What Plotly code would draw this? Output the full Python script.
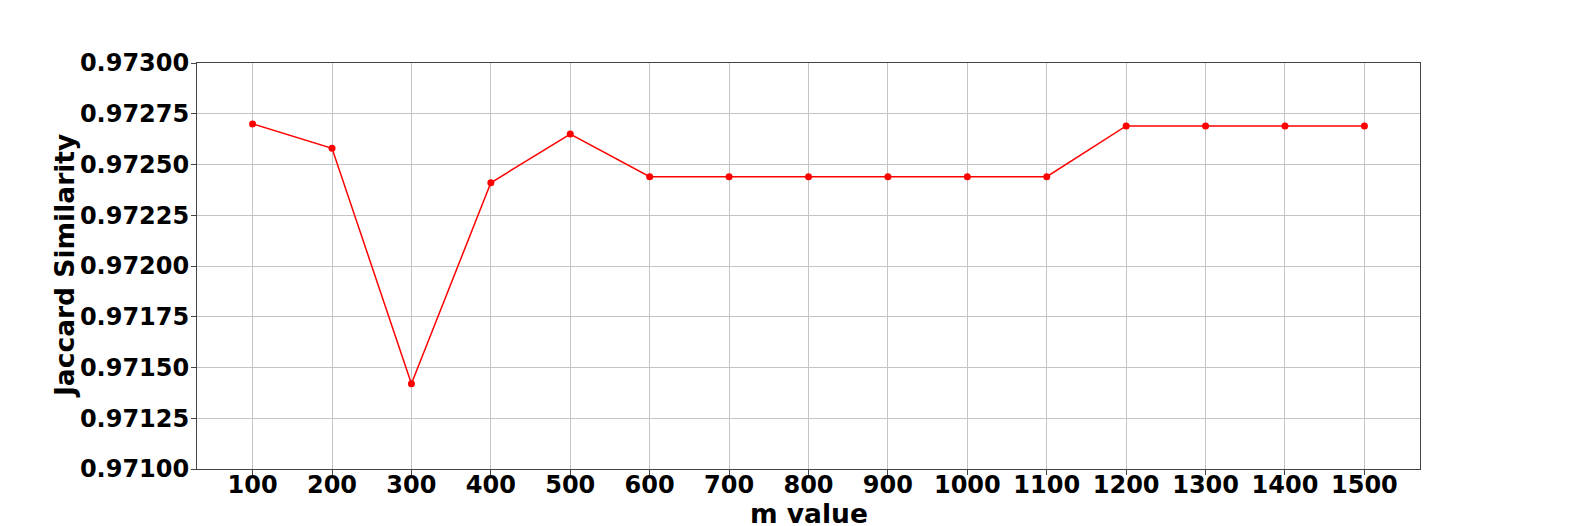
import plotly.graph_objects as go

# m values and the Jaccard similarity
m_values = [100, 200, 300, 400, 500, 600, 700, 800, 900, 1000, 1100, 1200, 1300, 1400, 1500]
jaccard = [0.97270, 0.97258, 0.97142, 0.97241, 0.97265,
           0.97244, 0.97244, 0.97244, 0.97244, 0.97244, 0.97244,
           0.97269, 0.97269, 0.97269, 0.97269]
y_ticks = [0.97100, 0.97125, 0.97150, 0.97175, 0.97200, 0.97225, 0.97250, 0.97275, 0.97300]

fig = go.Figure()

fig.add_trace(go.Scatter(
    x=m_values,
    y=jaccard,
    mode="lines+markers",
    line=dict(color="red", width=1.5),
    marker=dict(color="red", size=7),
    showlegend=False
))

font_family = "DejaVu Sans"
tick_font = dict(family=font_family, size=24, color="black", weight="bold")
title_font = dict(family=font_family, size=26.5, color="black", weight="bold")

axis_style = dict(
    tickfont=tick_font,
    showgrid=True,
    gridcolor="#c4c4c4",
    gridwidth=1,
    showline=True,
    linecolor="#444",
    linewidth=1,
    mirror=True,
    ticks="outside",
    ticklen=5,
    tickcolor="#444",
    zeroline=False,
    automargin=False,
)

# axis titles placed as annotations so the margins stay fixed
fig.add_annotation(
    text="<b>m value</b>", xref="paper", yref="paper", x=0.5, y=0,
    xanchor="center", yanchor="middle", yshift=-44,
    showarrow=False, font=title_font,
)
fig.add_annotation(
    text="<b>Jaccard Similarity</b>", xref="paper", yref="paper", x=0, y=0.5,
    xanchor="center", yanchor="middle", xshift=-133, textangle=-90,
    showarrow=False, font=title_font,
)

fig.update_layout(
    width=1570,
    height=518,
    paper_bgcolor="white",
    plot_bgcolor="white",
    margin=dict(l=189, r=158, t=55, b=57),
    xaxis=dict(
        range=[30, 1570],
        tickmode="array",
        tickvals=m_values,
        ticktext=[str(v) for v in m_values],
        ticklabelstandoff=-11,
        **axis_style,
    ),
    yaxis=dict(
        range=[0.971, 0.973],
        tickmode="array",
        tickvals=y_ticks,
        ticktext=[f"{v:.5f}" for v in y_ticks],
        ticklabelstandoff=-3,
        **axis_style,
    ),
)

fig.write_html("out.html")
